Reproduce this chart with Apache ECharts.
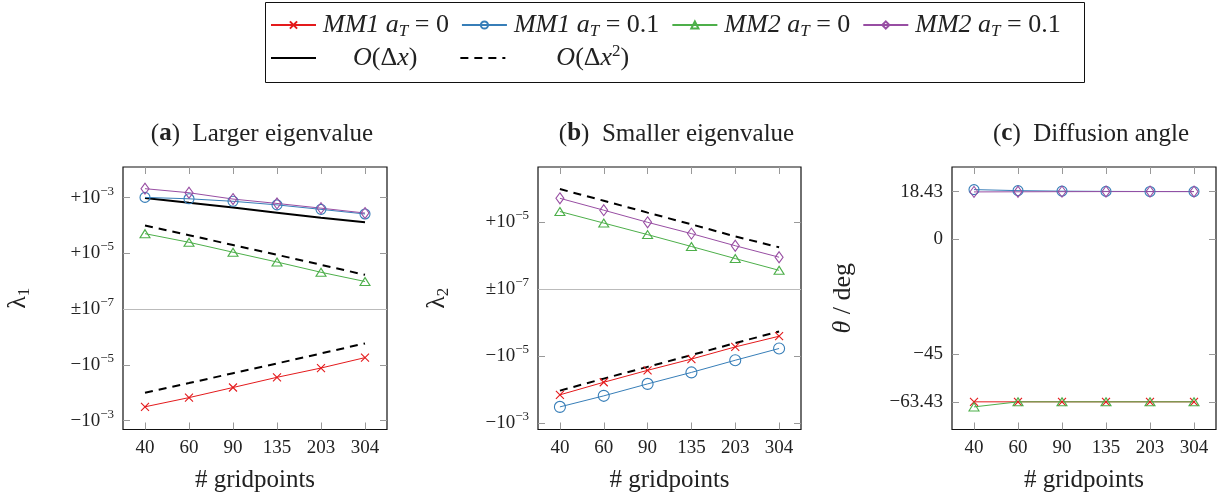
<!DOCTYPE html>
<html><head><meta charset="utf-8">
<script src="https://cdn.jsdelivr.net/npm/echarts@6/dist/echarts.min.js"></script>
<style>html,body{margin:0;padding:0;background:#fff}#c{width:1219px;height:498px}</style>
</head><body><div id="c"></div>
<script>
// ---------- data ----------
const gridpoints = ['40', '60', '90', '135', '203', '304'];

// (a) larger eigenvalue λ1
const a_MM1_a0  = [-3.2e-4, -1.5e-4, -6.5e-5, -2.8e-5, -1.3e-5, -5.5e-6];
const a_MM1_a01 = [1.02e-3, 9.1e-4, 7.4e-4, 5.5e-4, 3.8e-4, 2.6e-4];
const a_MM2_a0  = [5.1e-5, 2.5e-5, 1.1e-5, 4.9e-6, 2.1e-6, 9.8e-7];
const a_MM2_a01 = [2.1e-3, 1.5e-3, 8.9e-4, 6.2e-4, 4.2e-4, 2.8e-4];
const a_Odx      = [9.8e-4, 6.5e-4, 4.4e-4, 2.9e-4, 1.9e-4, 1.3e-4];
const a_Odx2_pos = [1.0e-4, 4.5e-5, 2.0e-5, 8.9e-6, 3.9e-6, 1.7e-6];
const a_Odx2_neg = [-1.0e-4, -4.5e-5, -2.0e-5, -8.9e-6, -3.9e-6, -1.7e-6];

// (b) smaller eigenvalue λ2
const b_MM1_a0  = [-1.4e-4, -5.9e-5, -2.6e-5, -1.2e-5, -5.2e-6, -2.5e-6];
const b_MM1_a01 = [-3.2e-4, -1.5e-4, -6.6e-5, -3.0e-5, -1.3e-5, -5.8e-6];
const b_MM2_a0  = [2.1e-5, 9.5e-6, 4.3e-6, 1.9e-6, 8.3e-7, 3.7e-7];
const b_MM2_a01 = [5.2e-5, 2.3e-5, 1.0e-5, 4.6e-6, 2.0e-6, 9.1e-7];
const b_Odx2_pos = [9.8e-5, 4.4e-5, 1.95e-5, 8.7e-6, 3.8e-6, 1.8e-6];
const b_Odx2_neg = [-1.05e-4, -4.6e-5, -2.05e-5, -9.1e-6, -4.0e-6, -1.8e-6];

// (c) diffusion angle θ in degrees
const c_MM1_a0  = [-63.43, -63.43, -63.43, -63.43, -63.43, -63.43];
const c_MM1_a01 = [19.2, 18.8, 18.6, 18.5, 18.45, 18.43];
const c_MM2_a0  = [-65.4, -63.43, -63.43, -63.43, -63.43, -63.43];
const c_MM2_a01 = [18.3, 18.35, 18.4, 18.43, 18.43, 18.43];

// tick labels
const symTickPos_a = [-4, -2, 0, 2, 4];           // symlog units (decades above 1e-7)
const symTickSign_a = ['−', '−', '±', '+', '+'];
const symTickExp_a  = ['−3', '−5', '−7', '−5', '−3'];
const symTickPos_b = [-4, -2, 0, 2];
const symTickSign_b = ['−', '−', '±', '+'];
const symTickExp_b  = ['−3', '−5', '−7', '−5'];
const angTicks = [-63.43, -45, 0, 18.43];
const angLabels = ['−63.43', '−45', '0', '18.43'];

const titles = [['a', 'Larger eigenvalue'], ['b', 'Smaller eigenvalue'], ['c', 'Diffusion angle']];

// ---------- helpers ----------
const LIN = 1e-7;
function sym(v) { return Math.sign(v) * Math.log10(Math.abs(v) / LIN); }
function symArr(arr) { return arr.map(sym); }

const FF = '"Liberation Serif", serif';
const TC = '#222';
const RED = '#e41a1c', BLUE = '#377eb8', GREEN = '#4daf4a', PURPLE = '#984ea3';
const N1 = 'MM1 aT=0', N2 = 'MM1 aT=0.1', N3 = 'MM2 aT=0', N4 = 'MM2 aT=0.1', NO1 = 'O(dx)', NO2 = 'O(dx2)';
const CROSS = 'path://M0,0L10,10M10,0L0,10';

function T(size, extra) { return Object.assign({ fontFamily: FF, fontSize: size, color: TC }, extra || {}); }

const grids = [
  { left: 123, top: 167, width: 264, height: 264 },
  { left: 538, top: 167, width: 263, height: 264 },
  { left: 952, top: 167, width: 264, height: 264 }
];
const yRanges = [[-4.32, 5.1], [-4.18, 3.65], [-74.2, 28]];
const yNames = ['{l|λ}{s|1}', '{l|λ}{s|2}', '{it|θ}{l| / deg}'];
const yNameGaps = [90, 86, 94];

const tickStyle = { show: true, inside: true, length: 7, interval: 0, lineStyle: { color: '#999', width: 1 } };

const xAxes = [], yAxes = [];
grids.forEach((g, i) => {
  const ticksY = i === 0 ? symTickPos_a : (i === 1 ? symTickPos_b : angTicks);
  const fmt = i === 2
    ? (v) => { const k = angTicks.findIndex(t => Math.abs(t - v) < 1e-6); return k >= 0 ? '{n|' + angLabels[k] + '}' : ''; }
    : (v) => {
        const pos = i === 0 ? symTickPos_a : symTickPos_b;
        const sg = i === 0 ? symTickSign_a : symTickSign_b;
        const ex = i === 0 ? symTickExp_a : symTickExp_b;
        const k = pos.findIndex(t => Math.abs(t - v) < 1e-6);
        return k >= 0 ? '{n|' + sg[k] + '10}{e|' + ex[k] + '}' : '';
      };
  xAxes.push({
    type: 'category', gridIndex: i, data: gridpoints, boundaryGap: true, position: 'bottom',
    axisLine: { show: false, onZero: false }, axisTick: Object.assign({ alignWithLabel: true }, tickStyle),
    axisLabel: { interval: 0, hideOverlap: false, formatter: (v) => '{n|' + v + '}', margin: 8, rich: { n: T(19, { lineHeight: 22 }) } },
    splitLine: { show: false },
    name: '{t|# gridpoints}', nameLocation: 'middle', nameGap: 37,
    nameTextStyle: T(25, { rich: { t: T(25, { lineHeight: 28 }) } })
  });
  xAxes.push({
    type: 'category', gridIndex: i, data: gridpoints, boundaryGap: true, position: 'top',
    axisLine: { show: false, onZero: false }, axisTick: Object.assign({ alignWithLabel: true }, tickStyle),
    axisLabel: { show: false }, splitLine: { show: false }
  });
  yAxes.push({
    type: 'value', gridIndex: i, min: yRanges[i][0], max: yRanges[i][1], position: 'left',
    axisLine: { show: false, onZero: false },
    axisTick: Object.assign({ customValues: ticksY }, tickStyle),
    axisLabel: {
      customValues: ticksY, formatter: fmt, margin: 9,
      rich: {
        n: T(19, { lineHeight: 26 }),
        e: T(13, { verticalAlign: 'top', lineHeight: 13 })
      }
    },
    splitLine: { show: false },
    name: yNames[i], nameLocation: 'middle', nameGap: yNameGaps[i],
    nameTextStyle: T(26, {
      rich: {
        l: T(26, { lineHeight: 30 }),
        it: T(26, { lineHeight: 30, fontStyle: 'italic' }),
        s: T(17, { verticalAlign: 'bottom', lineHeight: 17 })
      }
    })
  });
  yAxes.push({
    type: 'value', gridIndex: i, min: yRanges[i][0], max: yRanges[i][1], position: 'right',
    axisLine: { show: false, onZero: false },
    axisTick: Object.assign({ customValues: ticksY }, tickStyle),
    axisLabel: { show: false }, splitLine: { show: false }
  });
});

function dataSeries(name, gi, data, color, symbol, size) {
  return {
    name, type: 'line', xAxisIndex: gi * 2, yAxisIndex: gi * 2, data,
    symbol, symbolSize: size, showAllSymbol: true,
    lineStyle: { color, width: 1 },
    itemStyle: { color: 'rgba(0,0,0,0)', borderColor: color, borderWidth: 1.1 },
    emphasis: { disabled: true }, z: 3
  };
}
function refSeries(name, gi, data, dashed) {
  return {
    name, type: 'line', xAxisIndex: gi * 2, yAxisIndex: gi * 2, data, symbol: 'none',
    lineStyle: { color: '#000', width: 2, type: dashed ? [8, 6] : 'solid' },
    itemStyle: { color: '#000' }, emphasis: { disabled: true }, z: 2
  };
}
const zeroLine = {
  silent: true, symbol: 'none', label: { show: false },
  lineStyle: { color: '#bbb', width: 1, type: 'solid' }, data: [{ yAxis: 0 }], animation: false
};

const series = [];
// (a)
const sa = refSeries(NO1, 0, symArr(a_Odx), false); sa.markLine = zeroLine; series.push(sa);
series.push(refSeries(NO2, 0, symArr(a_Odx2_pos), true));
series.push(refSeries(NO2, 0, symArr(a_Odx2_neg), true));
series.push(dataSeries(N1, 0, symArr(a_MM1_a0), RED, CROSS, 8));
series.push(dataSeries(N2, 0, symArr(a_MM1_a01), BLUE, 'circle', 10));
series.push(dataSeries(N3, 0, symArr(a_MM2_a0), GREEN, 'triangle', [10, 8]));
series.push(dataSeries(N4, 0, symArr(a_MM2_a01), PURPLE, 'diamond', [8, 11]));
// (b)
const sb = refSeries(NO2, 1, symArr(b_Odx2_pos), true); sb.markLine = zeroLine; series.push(sb);
series.push(refSeries(NO2, 1, symArr(b_Odx2_neg), true));
series.push(dataSeries(N1, 1, symArr(b_MM1_a0), RED, CROSS, 8));
series.push(dataSeries(N2, 1, symArr(b_MM1_a01), BLUE, 'circle', 11));
series.push(dataSeries(N3, 1, symArr(b_MM2_a0), GREEN, 'triangle', [10, 8]));
series.push(dataSeries(N4, 1, symArr(b_MM2_a01), PURPLE, 'diamond', [8, 11]));
// (c)
series.push(dataSeries(N1, 2, c_MM1_a0, RED, CROSS, 8));
series.push(dataSeries(N2, 2, c_MM1_a01, BLUE, 'circle', 10));
series.push(dataSeries(N3, 2, c_MM2_a0, GREEN, 'triangle', [10, 8]));
series.push(dataSeries(N4, 2, c_MM2_a01, PURPLE, 'diamond', [8, 11]));

const LF = 26;
const legendRich = {
  i: T(LF, { fontStyle: 'italic', lineHeight: 30 }),
  r: T(LF, { lineHeight: 30 }),
  sub: T(17, { fontStyle: 'italic', verticalAlign: 'bottom', lineHeight: 17 }),
  sup: T(17, { verticalAlign: 'top', lineHeight: 17 }),
  g: { width: 2 },
  pad1: { width: 32 },
  pad2: { width: 46 }
};
const legendLabels = {};
legendLabels[N1] = '{g|}{i|MM1 a}{sub|T}{r| = 0}';
legendLabels[N2] = '{g|}{i|MM1 a}{sub|T}{r| = 0.1}';
legendLabels[N3] = '{g|}{i|MM2 a}{sub|T}{r| = 0}';
legendLabels[N4] = '{g|}{i|MM2 a}{sub|T}{r| = 0.1}';
legendLabels[NO1] = '{pad1|}{i|O}{r|(Δ}{i|x}{r|)}';
legendLabels[NO2] = '{pad2|}{i|O}{r|(Δ}{i|x}{sup|2}{r|)}';

const legendCommon = {
  orient: 'horizontal', itemWidth: 45, itemHeight: 9, selectedMode: false,
  textStyle: T(LF, { rich: legendRich }),
  formatter: (n) => legendLabels[n]
};
const hiddenMarker = { color: 'rgba(0,0,0,0)', borderWidth: 0, borderColor: 'rgba(0,0,0,0)' };

const option = {
  animation: false,
  backgroundColor: '#fff',
  grid: grids.map(g => Object.assign({ show: true, borderColor: '#111', borderWidth: 1.2, backgroundColor: 'transparent', containLabel: false }, g)),
  title: grids.map((g, i) => ({
    text: '{p|(}{b|' + titles[i][0] + '}{p|)  ' + titles[i][1] + '}',
    left: g.left + g.width / 2 + 2, top: 114, textAlign: 'center',
    textStyle: T(25, {
      fontWeight: 'normal',
      rich: { p: T(25, { lineHeight: 30 }), b: T(25, { fontWeight: 'bold', lineHeight: 30 }) }
    })
  })),
  legend: [
    Object.assign({ data: [N1, N2, N3, N4], left: 265, top: 7, itemGap: 12 }, legendCommon),
    Object.assign({
      data: [{ name: NO1, itemStyle: hiddenMarker }, { name: NO2, itemStyle: hiddenMarker }],
      left: 265, top: 38, itemGap: 42
    }, legendCommon)
  ],
  graphic: [{
    type: 'rect', shape: { x: 265.5, y: 2.5, width: 819, height: 80 },
    style: { fill: 'none', stroke: '#111', lineWidth: 1 }, silent: true, z: 100
  }],
  xAxis: xAxes,
  yAxis: yAxes,
  series
};

const chart = echarts.init(document.getElementById('c'), null, { renderer: 'canvas' });
chart.setOption(option);
</script>
</body></html>
